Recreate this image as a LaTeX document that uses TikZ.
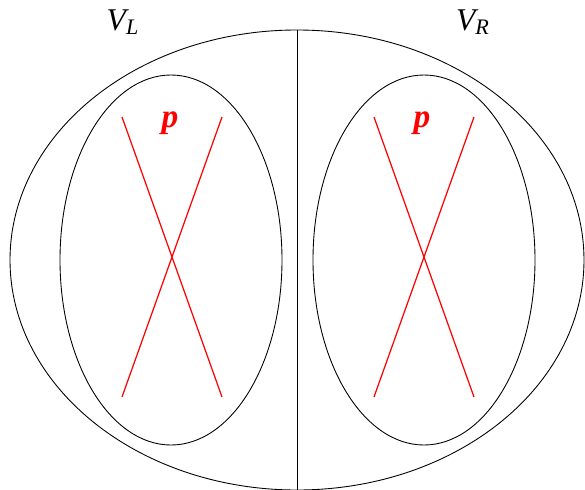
\documentclass[tikz,border=0pt]{standalone}
\usepackage{fontspec}
\newfontfamily\timesf{Liberation Serif}
\usetikzlibrary{positioning}

\begin{document}
\begin{tikzpicture}[x=0.02cm,y=-0.02cm,
  part/.style={draw,line width=0.5pt},
  cross/.style={draw=red,line width=0.7pt},
  setlbl/.style={font=\timesf\fontsize{18}{20}\selectfont\itshape,inner sep=0pt},
  plbl/.style={font=\timesf\fontsize{19}{20}\selectfont\bfseries\itshape,text=red,inner sep=0pt}]
  \useasboundingbox (0,0) rectangle (585,490);
  % outer set split into two halves
  \draw[part] (297,260) ellipse [x radius=287,y radius=230];
  \coordinate (top) at (297,30);
  \coordinate (bot) at (297,490);
  \draw[part] (top) -- (bot);
  \node[setlbl] (vl) at (123,22) {V\textsubscript{L}};
  \node[setlbl] (vr) at (473,22) {V\textsubscript{R}};
  % inner sets
  \draw[part] (171,260) ellipse [x radius=111,y radius=185];
  \draw[part] (424,260) ellipse [x radius=111,y radius=185];
  % crosses
  \foreach \cx/\nm in {172/pl,424/pr}{
    \coordinate (\nm a) at (\cx-50,117);
    \coordinate (\nm b) at (\cx+50,117);
    \coordinate (\nm c) at (\cx-50,397);
    \coordinate (\nm d) at (\cx+50,397);
    \draw[cross] (\nm a) -- (\nm d);
    \draw[cross] (\nm b) -- (\nm c);
    \node[plbl] (\nm) at (\cx-2,123) {p};
  }
\end{tikzpicture}
\end{document}
